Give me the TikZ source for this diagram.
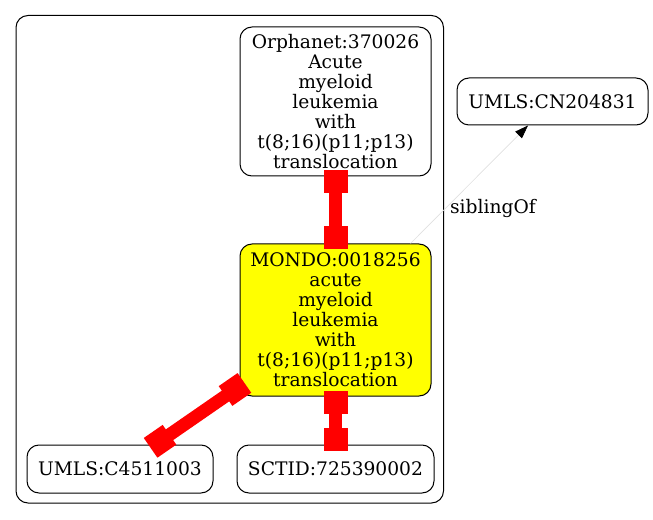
\documentclass[tikz,border=0pt]{standalone}
\usepackage{fontspec}
\setmainfont{DejaVu Serif}
\usetikzlibrary{arrows.meta,decorations.markings}
\definecolor{gvyellow}{RGB}{255,255,0}
\definecolor{gvred}{RGB}{255,0,0}
\tikzset{
  box/.style={draw=black, line width=0.75pt, rounded corners=9pt, align=center, inner sep=0pt,
    font=\fontsize{14}{15}\selectfont},
  redge/.style={draw=gvred, line width=9.75pt,
    postaction={decorate, decoration={markings,
      mark=at position 4.125pt with {\fill[gvred] (-8.625pt,-9pt) rectangle (8.625pt,9pt);},
      mark=at position -4.125pt with {\fill[gvred] (-8.625pt,-9pt) rectangle (8.625pt,9pt);}}}},
  sib/.style={draw=black!12, line width=0.5pt, -{Triangle[length=10pt,width=7pt,color=black]}},
  lbl/.style={font=\fontsize{14}{15}\selectfont, inner sep=0pt}
}
\begin{document}
\begin{tikzpicture}[x=0.75pt,y=-0.75pt]
\useasboundingbox (0,0) rectangle (653,520);
\draw[line width=0.75pt, rounded corners=9pt] (16,15.5) rectangle (443.5,503);
\node[box, minimum width=143.25pt, minimum height=111.75pt] (orpha) at (335.5,101.5)
  {Orphanet:370026\\Acute\\myeloid\\leukemia\\with\\t(8;16)(p11;p13)\\translocation};
\node[box, fill=gvyellow, minimum width=143.25pt, minimum height=114pt] (mondo) at (335.5,320)
  {MONDO:0018256\\acute\\myeloid\\leukemia\\with\\t(8;16)(p11;p13)\\translocation};
\node[box, minimum width=143.25pt, minimum height=35.25pt] (cn) at (552.5,101.5) {UMLS:CN204831};
\node[box, minimum width=139.5pt, minimum height=36pt] (c45) at (120,469) {UMLS:C4511003};
\node[box, minimum width=147.75pt, minimum height=36pt] (sct) at (335.5,469) {SCTID:725390002};
\draw[redge] (orpha) -- (mondo);
\draw[redge] (mondo) -- (sct);
\draw[redge] (mondo) -- (c45);
\draw[sib] ([xshift=-15.75pt]mondo.north east) -- ([xshift=-18.375pt]cn.south)
  node[lbl, pos=0.3, anchor=west, xshift=3pt] (sl) {siblingOf};
\end{tikzpicture}
\end{document}
